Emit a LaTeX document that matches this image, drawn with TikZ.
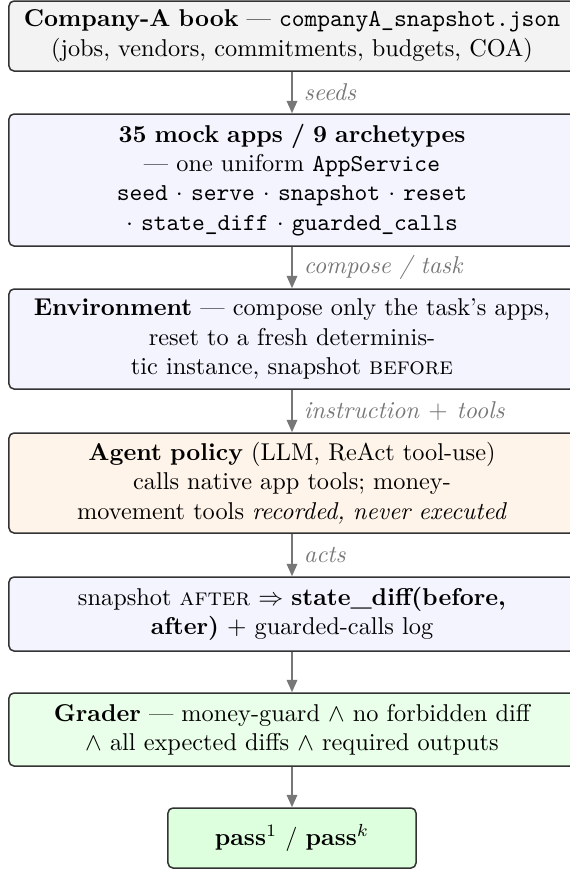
\documentclass[tikz,border=0pt]{standalone}
\usetikzlibrary{arrows.meta}
\definecolor{boxgray}{HTML}{F3F3F3}
\definecolor{boxblue}{HTML}{F4F4FF}
\definecolor{boxorange}{HTML}{FFF4E9}
\definecolor{boxgreen}{HTML}{E9FFE9}
\definecolor{passgreen}{HTML}{DEFFDE}
\definecolor{arrowgray}{HTML}{777777}
\newcommand{\figfont}{\fontsize{9.73pt}{11.7pt}\selectfont}
\begin{document}
\begin{tikzpicture}[x=0.4pt,y=-0.4pt,
  stage/.style={draw=black!80, line width=0.6pt, rounded corners=2pt, align=center,
    minimum width=226.4pt, inner xsep=0pt, inner ysep=0pt, text width=222pt, font=\figfont},
  flow/.style={draw=arrowgray, line width=0.8pt, -{Triangle[length=5pt,width=4.2pt]}},
  lbl/.style={right, text=arrowgray, font=\figfont\itshape, xshift=1pt}]
\useasboundingbox (0,0) rectangle (570,869);

\node[stage, fill=boxgray, minimum height=28pt] (book) at (292,36)
  {\textbf{Company-A book} --- \texttt{companyA\_snapshot.json}\\
   (jobs, vendors, commitments, budgets, COA)};

\node[stage, fill=boxblue, minimum height=52.8pt] (apps) at (292,180)
  {\textbf{35 mock apps / 9 archetypes}\\
   --- one uniform \texttt{AppService}\\
   \texttt{seed} $\cdot$ \texttt{serve} $\cdot$ \texttt{snapshot} $\cdot$ \texttt{reset}\\
   $\cdot$ \texttt{state\_diff} $\cdot$ \texttt{guarded\_calls}};

\node[stage, fill=boxblue, minimum height=40pt] (env) at (292,339)
  {\textbf{Environment} --- compose only the task's apps,\\
   reset to a fresh determinis-\\
   tic instance, snapshot \textsc{before}};

\node[stage, fill=boxorange, minimum height=40pt] (agent) at (292,483)
  {\textbf{Agent policy} (LLM, ReAct tool-use)\\
   calls native app tools; money-\\
   movement tools \textit{recorded, never executed}};

\node[stage, fill=boxblue, minimum height=29.6pt] (diff) at (292,614)
  {snapshot \textsc{after} $\Rightarrow$ \textbf{state\_diff(before,}\\
   \textbf{after)} $+$ guarded-calls log};

\node[stage, fill=boxgreen, minimum height=29.2pt] (grader) at (292,729.5)
  {\textbf{Grader} --- money-guard $\wedge$ no forbidden diff\\
   $\wedge$ all expected diffs $\wedge$ required outputs};

\node[stage, fill=passgreen, minimum width=99.2pt, text width=95pt, minimum height=24pt] (pass) at (292,838)
  {\textbf{pass}$^1$ / \textbf{pass}$^k$};

\draw[flow] (book) -- node[lbl]{seeds} (apps);
\draw[flow] (apps) -- node[lbl]{compose / task} (env);
\draw[flow] (env) -- node[lbl]{instruction \textup{$+$} tools} (agent);
\draw[flow] (agent) -- node[lbl]{acts} (diff);
\draw[flow] (diff) -- (grader);
\draw[flow] (grader) -- (pass);
\end{tikzpicture}
\end{document}
